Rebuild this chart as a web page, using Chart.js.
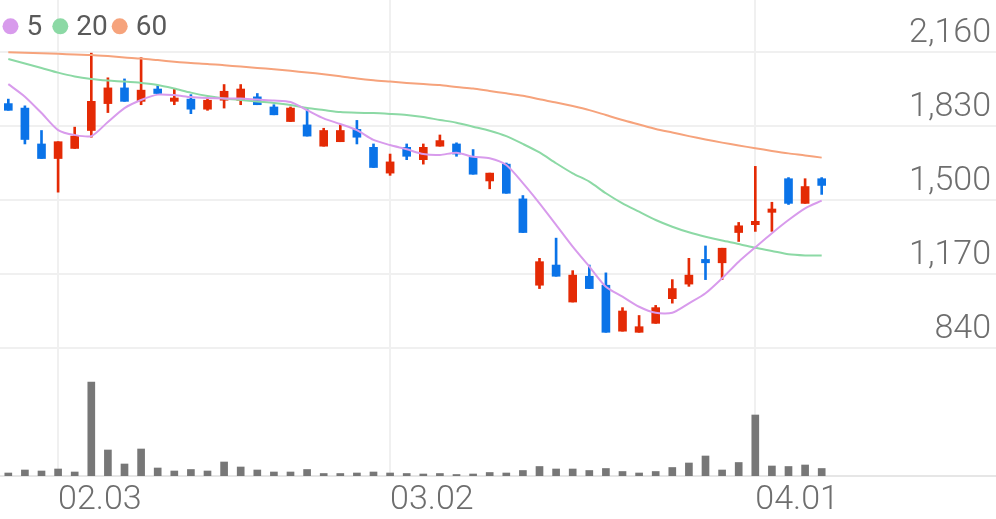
<!DOCTYPE html>
<html>
<head>
<meta charset="utf-8">
<script src="https://cdn.jsdelivr.net/npm/chart.js@4/dist/chart.umd.min.js"></script>
<style>
  html, body { margin: 0; padding: 0; background: #fff; }
  #wrap { position: relative; width: 996px; height: 519px; }
</style>
</head>
<body>
<div id="wrap"><canvas id="stock" width="996" height="519"></canvas></div>
<script>
// Daily candles, 2020-01-29 .. 2020-04-07 (KRW), plus 5/20/60-day moving averages
// and volume.
const dates = [
  "01.29", "01.30", "01.31",
  "02.03", "02.04", "02.05", "02.06", "02.07", "02.10", "02.11", "02.12", "02.13", "02.14",
  "02.17", "02.18", "02.19", "02.20", "02.21", "02.24", "02.25", "02.26", "02.27", "02.28",
  "03.02", "03.03", "03.04", "03.05", "03.06", "03.09", "03.10", "03.11", "03.12", "03.13",
  "03.16", "03.17", "03.18", "03.19", "03.20", "03.23", "03.24", "03.25", "03.26", "03.27",
  "03.30", "03.31",
  "04.01", "04.02", "04.03", "04.06", "04.07",
];
const emptySlots = 10; // room left on the right of the last candle
const axisLabels = ["02.03", "03.02", "04.01"];

const open = [1930, 1910, 1750, 1685, 1730, 1810, 1930, 2000, 1940, 1995,
  1940, 1950, 1905, 1945, 1945, 1960, 1915, 1850, 1835, 1740,
  1760, 1815, 1735, 1620, 1735, 1680, 1740, 1750, 1690, 1585,
  1660, 1505, 1120, 1210, 1045, 1160, 1120, 915, 910, 950,
  1060, 1125, 1235, 1220, 1355, 1390, 1445, 1595, 1485, 1595];
const high = [1950, 1920, 1810, 1760, 1825, 2155, 2045, 2040, 2135, 2010,
  1995, 1970, 1955, 2015, 2015, 1975, 1925, 1915, 1905, 1820,
  1835, 1855, 1750, 1705, 1750, 1750, 1790, 1755, 1725, 1620,
  1665, 1520, 1240, 1330, 1185, 1210, 1175, 1020, 985, 1030,
  1145, 1240, 1295, 1285, 1400, 1650, 1490, 1600, 1595, 1600];
const low = [1900, 1750, 1685, 1535, 1730, 1780, 1890, 1940, 1925, 1975,
  1925, 1885, 1900, 1910, 1925, 1925, 1880, 1850, 1785, 1740,
  1760, 1750, 1645, 1610, 1680, 1660, 1740, 1695, 1615, 1550,
  1530, 1355, 1105, 1160, 1045, 1105, 910, 915, 910, 950,
  1040, 1115, 1145, 1145, 1315, 1360, 1360, 1480, 1485, 1525];
const close = [1900, 1770, 1685, 1760, 1785, 1940, 2000, 1940, 1990, 1975,
  1955, 1905, 1945, 1985, 1995, 1925, 1880, 1910, 1785, 1810,
  1810, 1780, 1645, 1670, 1695, 1735, 1765, 1705, 1615, 1620,
  1530, 1355, 1225, 1160, 1165, 1105, 910, 1005, 935, 1020,
  1105, 1165, 1220, 1285, 1385, 1405, 1460, 1485, 1560, 1565];

const ma5 = [2017, 1961, 1888, 1812, 1790, 1785, 1848, 1910, 1946, 1970,
  1968, 1959, 1955, 1953, 1953, 1948, 1944, 1937, 1901, 1864,
  1839, 1812, 1768, 1745, 1726, 1705, 1701, 1711, 1693, 1686,
  1656, 1575, 1485, 1389, 1292, 1203, 1113, 1069, 1024, 997,
  997, 1039, 1084, 1151, 1225, 1289, 1352, 1411, 1463, 1497];
const ma20 = [2129, 2109, 2089, 2068, 2051, 2040, 2033, 2028, 2022, 2013,
  1997, 1979, 1964, 1953, 1946, 1939, 1933, 1924, 1910, 1901,
  1892, 1889, 1888, 1884, 1879, 1870, 1857, 1845, 1827, 1809,
  1785, 1750, 1712, 1664, 1619, 1582, 1530, 1485, 1448, 1411,
  1381, 1356, 1336, 1319, 1304, 1287, 1273, 1258, 1253, 1252];
const ma60 = [2159, 2157, 2155, 2152, 2149, 2147, 2142, 2136, 2131, 2124,
  2117, 2111, 2107, 2101, 2095, 2089, 2083, 2076, 2069, 2061,
  2052, 2042, 2034, 2028, 2022, 2017, 2013, 2004, 1997, 1986,
  1976, 1965, 1949, 1935, 1919, 1901, 1879, 1857, 1837, 1817,
  1801, 1785, 1770, 1756, 1743, 1731, 1719, 1708, 1699, 1689];

const volume = [30000, 60000, 50000, 70000, 40000, 940000, 260000, 120000, 270000, 80000,
  50000, 65000, 50000, 140000, 90000, 60000, 40000, 40000, 65000, 25000,
  25000, 30000, 40000, 30000, 25000, 20000, 25000, 15000, 20000, 35000,
  30000, 55000, 95000, 70000, 70000, 55000, 75000, 45000, 30000, 45000,
  85000, 130000, 200000, 60000, 135000, 610000, 100000, 95000, 110000, 75000];

const priceTicks = [840, 1170, 1500, 1830, 2160];
const priceMin = 840;
const priceMax = 2392;
const volumeMax = 1280000;

const maSeries = [
  { label: "5", data: ma5, color: "#d89bec" },
  { label: "20", data: ma20, color: "#8cd9a5" },
  { label: "60", data: ma60, color: "#f6a37c" },
];

const UP = "#e42a05";
const DOWN = "#0a73e8";
const TEXT = "#6e6e6e";
const GRID = "#f0f0f0";

const categories = dates.concat(Array(emptySlots).fill(""));
const candleColors = open.map((o, i) => (close[i] >= o ? UP : DOWN));

// Price labels sit inside the plot, right-aligned, just above their grid line.
const priceLabels = {
  id: "priceLabels",
  afterDraw(chart) {
    const { ctx } = chart;
    const y = chart.scales.price;
    ctx.save();
    ctx.font = "300 34px Roboto";
    ctx.fillStyle = TEXT;
    ctx.textAlign = "right";
    ctx.textBaseline = "alphabetic";
    for (const v of priceTicks) {
      ctx.fillText(v.toLocaleString("en-US"), 991, y.getPixelForValue(v) - 10);
    }
    ctx.restore();
  },
};

// Moving-average legend in the top-left corner: coloured dot + period.
const legendX = [2.5, 52.3, 111.7];
const maLegend = {
  id: "maLegend",
  afterDraw(chart) {
    const { ctx } = chart;
    ctx.save();
    ctx.font = "28px Roboto";
    ctx.textBaseline = "alphabetic";
    ctx.textAlign = "left";
    maSeries.forEach((s, i) => {
      const x = legendX[i];
      ctx.fillStyle = s.color;
      ctx.beginPath();
      ctx.arc(x + 8, 26.3, 8, 0, Math.PI * 2);
      ctx.fill();
      ctx.fillStyle = "#5a5a5a";
      ctx.fillText(s.label, x + 24, 35);
    });
    ctx.restore();
  },
};

new Chart(document.getElementById("stock"), {
  data: {
    labels: categories,
    datasets: [
      ...maSeries.map((s) => ({
        type: "line",
        label: s.label,
        data: s.data,
        yAxisID: "price",
        borderColor: s.color,
        borderWidth: 2,
        pointRadius: 0,
        tension: 0.25,
        order: 0,
      })),
      {
        type: "bar",
        label: "body",
        data: open.map((o, i) => [o, close[i]]),
        yAxisID: "price",
        backgroundColor: candleColors,
        barThickness: 8,
        minBarLength: 2,
        grouped: false,
        order: 1,
      },
      {
        type: "bar",
        label: "wick",
        data: low.map((l, i) => [l, high[i]]),
        yAxisID: "price",
        backgroundColor: candleColors,
        barThickness: 2,
        grouped: false,
        order: 2,
      },
      {
        type: "bar",
        label: "volume",
        data: volume,
        yAxisID: "vol",
        backgroundColor: "#777777",
        barThickness: 7,
        grouped: false,
        order: 3,
      },
    ],
  },
  options: {
    responsive: false,
    animation: false,
    events: [],
    layout: { padding: 0 },
    plugins: { legend: { display: false }, tooltip: { enabled: false } },
    scales: {
      x: {
        type: "category",
        offset: true,
        grid: {
          offset: false,
          drawTicks: false,
          lineWidth: 2,
          color: (c) => (axisLabels.includes(categories[c.index]) ? GRID : "rgba(0,0,0,0)"),
        },
        border: { display: true, color: "#e6e6e6", width: 2 },
        ticks: {
          autoSkip: false,
          maxRotation: 0,
          align: "start",
          padding: 4,
          color: TEXT,
          font: { family: "Roboto", size: 34, weight: 300 },
          callback: (v, i) => (axisLabels.includes(categories[i]) ? categories[i] : ""),
        },
        afterFit: (s) => { s.height = 43; },
      },
      price: {
        type: "linear",
        position: "right",
        stack: "panes",
        stackWeight: 348,
        min: priceMin,
        max: priceMax,
        afterBuildTicks: (s) => { s.ticks = priceTicks.map((v) => ({ value: v })); },
        grid: { color: GRID, lineWidth: 2, drawTicks: false },
        border: { display: false },
        ticks: { display: false },
      },
      vol: {
        type: "linear",
        position: "right",
        stack: "panes",
        stackWeight: 128,
        min: 0,
        max: volumeMax,
        grid: { display: false, drawTicks: false },
        border: { display: false },
        ticks: { display: false },
      },
    },
  },
  plugins: [priceLabels, maLegend],
});
</script>
</body>
</html>
